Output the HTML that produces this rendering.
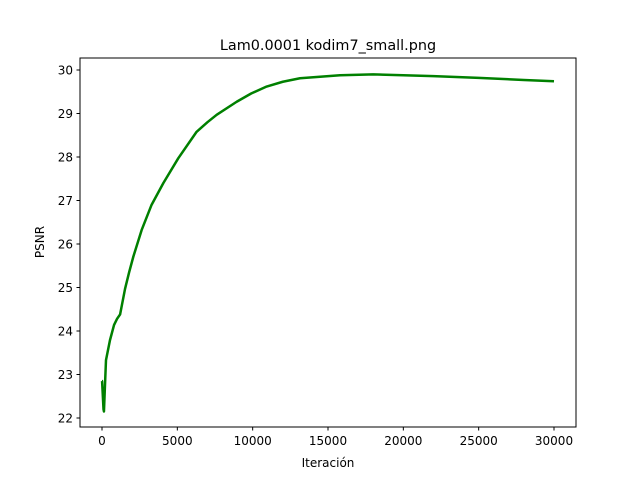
<!DOCTYPE html>
<html><head><meta charset="utf-8"><style>
body{margin:0;background:#fff;font-family:"DejaVu Sans","Liberation Sans",sans-serif;}
svg text{font-family:"DejaVu Sans","Liberation Sans",sans-serif;font-size:12px;fill:#000}
</style></head><body>
<svg id="chart" width="640" height="480">
<rect width="640" height="480" fill="#fff"/>
<text x="328" y="50" text-anchor="middle" style="font-size:14.4px">Lam0.0001 kodim7_small.png</text>
<g id="axes"></g>
<polyline id="line" fill="none" stroke="#008000" stroke-width="2.5" stroke-linejoin="round"/>
<rect x="80" y="58" width="496" height="369" fill="none" stroke="#000" stroke-width="1"/>
<text x="328" y="467" text-anchor="middle">Iteración</text>
<text x="44" y="242" text-anchor="middle" transform="rotate(-90 44 242)">PSNR</text>
</svg>
<script>
const iters=[0,5,100,130,180,265,530,800,1000,1200,1530,1800,2080,2630,3290,4070,5060,6280,7000,7610,8940,9900,10930,12000,13140,15800,18000,20000,22000,25000,28000,30000];
const psnr=[22.85,22.85,22.2,22.15,22.6,23.33,23.79,24.14,24.28,24.38,24.97,25.35,25.71,26.32,26.9,27.4,27.97,28.58,28.8,28.97,29.27,29.46,29.62,29.73,29.81,29.88,29.9,29.88,29.86,29.82,29.77,29.74];
const xTicks=[0,5000,10000,15000,20000,25000,30000];
const yTicks=[22,23,24,25,26,27,28,29,30];
const xs=v=>102+v*452/30000, ys=v=>418-(v-22)*43.5;
const NS="http://www.w3.org/2000/svg", ax=document.getElementById('axes');
xTicks.forEach(t=>{
 const l=document.createElementNS(NS,'line');l.setAttribute('x1',xs(t));l.setAttribute('x2',xs(t));l.setAttribute('y1',427);l.setAttribute('y2',430.5);l.setAttribute('stroke','#000');
 
 
 ax.appendChild(l);
 const tx=document.createElementNS(NS,'text');tx.setAttribute('x',xs(t));tx.setAttribute('y',445);tx.setAttribute('text-anchor','middle');tx.textContent=t;
 
 
 ax.appendChild(tx);
});
yTicks.forEach(t=>{
 const l=document.createElementNS(NS,'line');l.setAttribute('x1',76.5);l.setAttribute('x2',80);l.setAttribute('y1',ys(t));l.setAttribute('y2',ys(t));l.setAttribute('stroke','#000');
 
 
 ax.appendChild(l);
 const tx=document.createElementNS(NS,'text');tx.setAttribute('x',73);tx.setAttribute('y',ys(t)+4.5);tx.setAttribute('text-anchor','end');tx.textContent=t;
 
 
 ax.appendChild(tx);
});
document.getElementById('line').setAttribute('points',iters.map((v,i)=>xs(v)+','+ys(psnr[i])).join(' '));
</script>
</body></html>
